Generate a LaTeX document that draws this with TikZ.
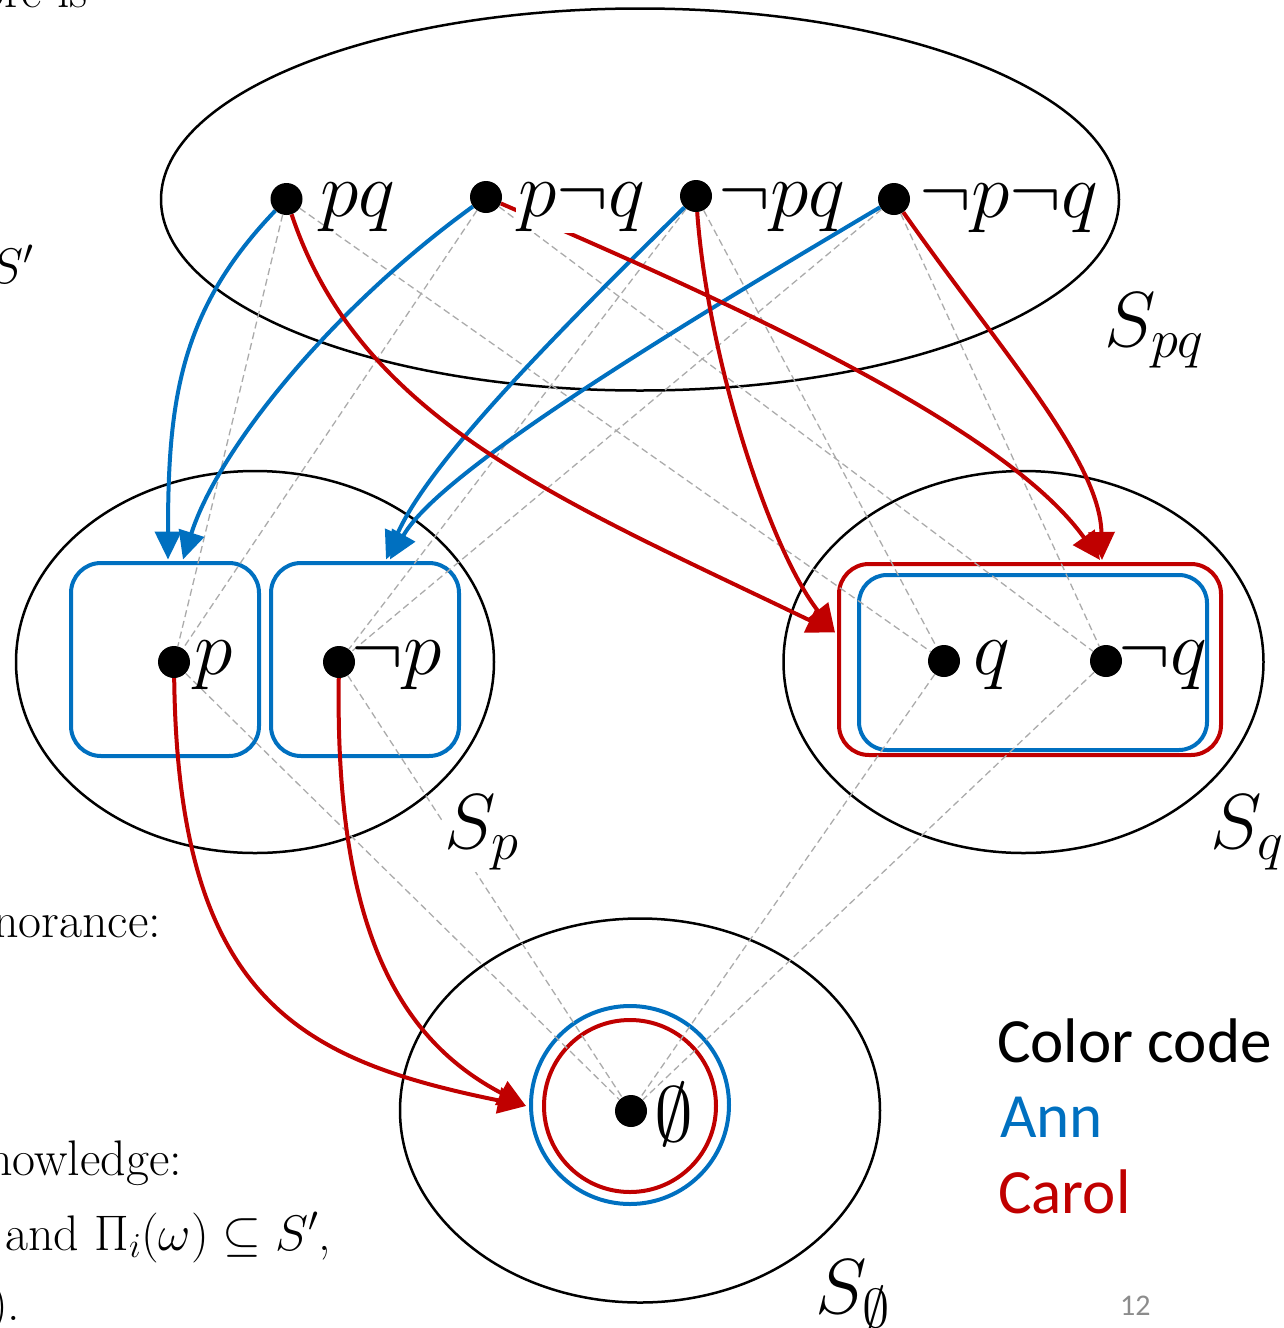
\RequirePackage{fix-cm}
\documentclass[tikz,border=0pt]{standalone}
\usepackage{fontspec}
\newfontfamily\calibri{Carlito}
\usetikzlibrary{arrows.meta}
\definecolor{annblue}{HTML}{0070C0}
\definecolor{carolred}{HTML}{C00000}
\definecolor{latgray}{HTML}{ABABAB}
\definecolor{pagegray}{HTML}{8C8C8C}

\begin{document}
\begin{tikzpicture}[x=1pt,y=-1pt,
  state/.style={circle,fill=black,inner sep=0pt,minimum size=32pt},
  lbl/.style={inner sep=0pt,anchor=base west,font=\fontsize{78}{94}\selectfont},
  setlbl/.style={lbl,fill=white,inner sep=2pt},
  region/.style={draw=black,line width=2.5pt},
  latline/.style={draw=latgray,line width=1.3pt,dash pattern=on 7pt off 4pt},
  tipstyle/.style={-{Triangle[length=28pt,width=26pt]}},
  annarrow/.style={draw=annblue,line width=4pt,tipstyle},
  carolarrow/.style={draw=carolred,line width=4pt,tipstyle},
  annbox/.style={draw=annblue,line width=4pt,rounded corners=30pt},
  carolbox/.style={draw=carolred,line width=4pt,rounded corners=30pt},
  body/.style={inner sep=0pt,anchor=base west,font=\fontsize{50}{60}\selectfont},
  legend/.style={inner sep=0pt,anchor=base west,font=\calibri\fontsize{63}{76}\selectfont}
]
\useasboundingbox (0,0) rectangle (1283,1328);
\clip (0,0) rectangle (1283,1328);

% surrounding slide text
\node[body] (t1) at (-19,7) {ore is};
\node[body] (t2) at (-10,283) {$S'$};
\node[body] (t3) at (-7,937) {norance:};
\node[body] (t4) at (-13,1175) {nowledge:};
\node[body] (t5) at (5,1250) {and $\Pi_i(\omega)\subseteq S'$,};
\node[body] (t6) at (-10,1320) {).};

% the four spaces
\draw[region] (640,199.5) ellipse [x radius=479, y radius=191];
\draw[region] (255,662) ellipse [x radius=239, y radius=191];
\draw[region] (1023.5,662) ellipse [x radius=240, y radius=191];
\draw[region] (640,1110.5) ellipse [x radius=240, y radius=192];

% possibility sets
\node[annbox,minimum width=188pt,minimum height=193pt] (boxp) at (165,659.5) {};
\node[annbox,minimum width=188pt,minimum height=193pt] (boxnp) at (365,659.5) {};
\node[carolbox,minimum width=382pt,minimum height=191pt] (rbox) at (1030,659.5) {};
\node[annbox,minimum width=348pt,minimum height=175pt,rounded corners=28pt] (bbox) at (1033,662.5) {};
\node[draw=annblue,line width=4pt,circle,inner sep=0pt,minimum size=198pt] (annE) at (630,1105) {};
\node[draw=carolred,line width=4pt,circle,inner sep=0pt,minimum size=172pt] (carE) at (630,1106) {};

% states
\node[state] (pq) at (286.5,199) {};
\node[state] (pnq) at (486,197) {};
\node[state] (npq) at (696,196) {};
\node[state] (npnq) at (894,199) {};
\node[state] (p) at (174,662) {};
\node[state] (np) at (339,662) {};
\node[state] (q) at (944,661) {};
\node[state] (nq) at (1106,661) {};
\node[state] (e) at (631,1111) {};

% projection lattice
\draw[latline] (pq) -- (p);
\draw[latline] (pq) -- (q);
\draw[latline] (pnq) -- (p);
\draw[latline] (pnq) -- (nq);
\draw[latline] (npq) -- (np);
\draw[latline] (npq) -- (q);
\draw[latline] (npnq) -- (np);
\draw[latline] (npnq) -- (nq);
\draw[latline] (p) -- (e);
\draw[latline] (np) -- (e);
\draw[latline] (q) -- (e);
\draw[latline] (nq) -- (e);

% arrow ends
\coordinate (aP1) at ([xshift=3pt,yshift=1.5pt]boxp.north);
\coordinate (aP2) at ([xshift=18pt,yshift=1.5pt]boxp.north);
\coordinate (aNP1) at ([xshift=21pt,yshift=1.5pt]boxnp.north);
\coordinate (aNP2) at ([xshift=25pt,yshift=1.5pt]boxnp.north);
\coordinate (cL) at ([xshift=-2pt,yshift=27pt]rbox.west);
\coordinate (cT1) at ([xshift=70pt,yshift=2pt]rbox.north);
\coordinate (cT2) at ([xshift=72pt,yshift=2pt]rbox.north);
\coordinate (cE) at ([xshift=-3pt,yshift=-1pt]annE.west);

% Ann
\draw[annarrow] (pq) .. controls (180,310) and (168,400) .. (aP1);
\draw[annarrow] (pnq) .. controls (330,310) and (218,450) .. (aP2);
\draw[annarrow] (npq) .. controls (560,330) and (430,460) .. (aNP1);
\draw[annarrow] (npnq) .. controls (690,320) and (440,470) .. (aNP2);

% Carol
\draw[carolarrow] (pq) .. controls (360,420) and (560,500) .. (cL);
\draw[carolarrow] (npq) .. controls (708,360) and (770,550) .. (cL);
\draw[carolarrow] (pnq) .. controls (700,290) and (1000,420) .. (cT1);
\draw[carolarrow] (npnq) .. controls (1000,350) and (1100,460) .. (cT2);
\draw[carolarrow] (p) .. controls (178,1000) and (300,1060) .. (cE);
\draw[carolarrow] (np) .. controls (335,930) and (400,1040) .. (cE);

% state labels
\node[lbl] (lpq) at (320,216) {$pq$};
\node[setlbl] (lpnq) at (516,216) {$p\neg q$};
\node[lbl] (lnpq) at (718,216) {$\neg pq$};
\node[lbl] (lnpnq) at (919,217) {$\neg p\neg q$};
\node[lbl] (lp) at (194,674) {$p$};
\node[lbl] (lnp) at (351,674) {$\neg p$};
\node[lbl] (lq) at (973,674) {$q$};
\node[lbl] (lnq) at (1118,674) {$\neg q$};
\node[lbl] (le) at (654,1141) {$\emptyset$};

% space labels
\node[setlbl] (spq) at (1102,346) {$S_{pq}$};
\node[setlbl] (sp) at (442,848) {$S_{p}$};
\node[setlbl] (sq) at (1208,848) {$S_{q}$};
\node[setlbl] (se) at (813,1313) {$S_{\emptyset}$};

% colour legend
\node[legend] (lc) at (997,1062) {Color code};
\node[legend,text=annblue] (la) at (1000,1137) {Ann};
\node[legend,text=carolred] (lcar) at (998,1213) {Carol};
\node[inner sep=0pt,anchor=base west,font=\calibri\fontsize{30}{36}\selectfont,text=pagegray] (pg) at (1120,1315) {12};
\end{tikzpicture}
\end{document}
